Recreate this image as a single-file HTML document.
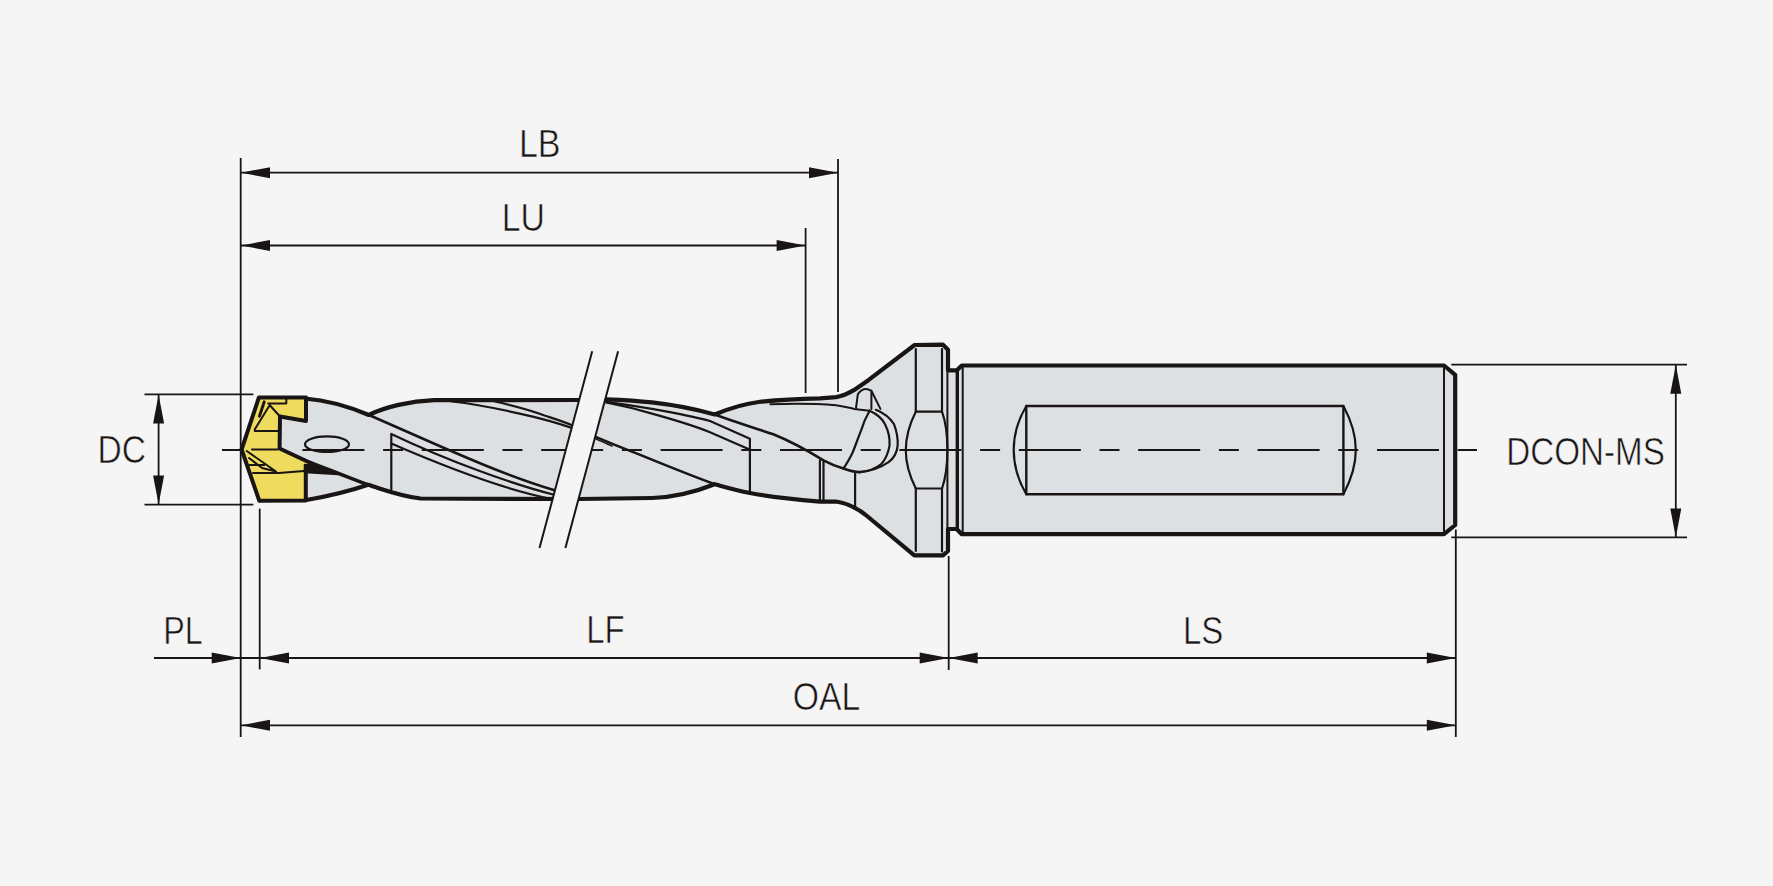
<!DOCTYPE html>
<html><head><meta charset="utf-8">
<style>
html,body{margin:0;padding:0;background:#f5f5f5;}
body{width:1773px;height:886px;overflow:hidden;}
svg{display:block;}
text{font-family:"Liberation Sans",sans-serif;font-size:38.5px;fill:#1a1616;stroke:#f5f5f5;stroke-width:0.6px;}
</style></head>
<body>
<svg width="1773" height="886" viewBox="0 0 1773 886">
<rect x="0" y="0" width="1773" height="886" fill="#f5f5f5"/>

<!-- ===== BODY ===== -->
<g stroke="#1a1515" stroke-linejoin="round" stroke-linecap="round">
<path fill="#dde0e3" stroke-width="4.2" d="M262 398.5 L305 398.5 C330 400.5 350 407 368.8 415 C385 407 410 401 434 400.2 L578 400 L606 399.3 C625 400 640 401 652 402.4 C675 405 695 409 714.7 414.5 C728 409 742 404 758.7 402 C780 399.5 800 398.7 820 398.3 L836.1 397.1 C845 395.5 850 392.5 854.2 389.9 L868.7 379.9 L914.6 345 L943 344.7 L948 349.8 L948 370.4 L956.7 370.4 L961.8 365.5 L1444 365.5 L1455.2 374.8 L1455.2 525 L1444 534.2 L961.8 534.2 L956.7 529 L948 529 L948 551 L943 555.3 L914.3 555.3 L867 516 C858 508.5 849 503.5 836 501.5 L820 501.6 C790 499 765 496 749.9 493 C735 490 725 487 714.7 484.2 C700 490 680 497 652 498 L579 499 L420.6 498.5 C400 496 385 490 368.1 484.8 C350 491 330 496 306.5 500 L262 500 Z"/>
</g>
<!-- body interior lines -->
<g stroke="#1a1515" fill="none" stroke-linejoin="round" stroke-linecap="round">
<!-- coolant hole -->
<ellipse cx="327" cy="444.2" rx="22" ry="7.8" stroke-width="2.2"/>
<!-- thick flute edge from insert -->
<path stroke-width="3.6" d="M300 459 C325 468 345 476 368.1 484.8"/>
<!-- middle lobe main flute diagonal -->
<path stroke-width="2.6" d="M368.8 415 C428.8 440.8 493.8 472 553.8 490 L574 499"/>
<!-- vertical + parallel lines -->
<path stroke-width="2.2" d="M391.3 489.5 L391.3 433.9 C446 460 513 484.5 553.1 494.5 L566 499"/>
<path stroke-width="2.2" d="M391.3 443.5 C441 465 505 490 552 499"/>
<!-- margin lines near top, left part -->
<path stroke-width="2.2" d="M452 401.5 C475 404 495 408 519.6 413.6 C540 418 555 422 575 429"/>
<path stroke-width="2.2" d="M495 401.5 C515 406 530 410 544.5 415.5 C555 419 565 422 575 426.5"/>
<!-- right of break: margin lines -->
<path stroke-width="2.2" d="M606 401.8 C630 405 648 408 664.5 411.1 C685 415 700 418 710 421 L749.9 438.7 L749.9 493"/>
<path stroke-width="2.2" d="M606 402.4 C625 406 640 410 652 413.6 C675 420 695 426 710 432.2 L748.4 449"/>
<!-- right of break: main diagonal -->
<path stroke-width="2.6" d="M595 436.6 C610 443 625 449 639.6 454.6 C665 465 690 475 714.7 484.2"/>
<path stroke-width="1.6" d="M595 438.4 C600 441 605 443 612 446"/>
<!-- right lobe diagonal to ball -->
<path stroke-width="2.6" d="M714.7 414.5 C735 422 755 428 773.3 434.3 C790 441 805 449 823.5 460.4 C832 465 838 467 843.4 468.5 C850 471 855 472 859.6 472.1"/>
<!-- right lobe margin line under top -->
<path stroke-width="2" d="M770.4 404.2 C790 403.5 815 403.5 836.1 405.2 C845 406.5 850 408 854.2 408.9 L869.6 410.7"/>
<!-- verticals in right lobe -->
<path stroke-width="2.2" d="M819.9 460.4 L819.9 499.5 M823.5 461 L823.5 500 M855.1 473.9 L855.1 508"/>
<!-- ball -->
<path stroke-width="2.2" d="M869.6 410.7 C866 417 863 424 861.4 429.6 C858 438 855 447 852.4 453.1 C849 460 846 465 843.4 468.5"/>
<path stroke-width="2.2" d="M869.6 410.7 C877 414 882 418 885 424.2 C889 432 890 440 889.5 445.9 C888 454 885 460 881.3 464 C875 469 867 471.5 859.6 472.1"/>
<path stroke-width="2.2" d="M875.9 409.8 C884 413 890 418 894 424.2 C897 432 898 440 897.6 445.9 C897 453 894 458 888.6 462.2 C880 468 870 471.5 859.6 472.1"/>
<path stroke-width="2" d="M856 408 L857.8 394.4 C860 391 863 389 866 389 C868 389 870 390 871.4 390.8 L880.4 408.9 M871.4 390.8 L871.4 408.9"/>
<!-- flange -->
<path stroke-width="2.2" d="M915.8 349 L915.8 411.7 L942 411.7 M915.8 551 L915.8 488.5 L942 488.5"/>
<path stroke-width="2.2" d="M915.8 411.7 C909 425 905.8 440 905.8 450.3 C905.8 461 909 475 915.8 488.5"/>
<path stroke-width="2.2" d="M942 349 L942 411.7 C945 420 947.4 430 947.4 450 C947.4 470 945 480 942 488.5 L942 551.5"/>
<!-- neck -->
<path stroke-width="2" d="M947.4 372 L947.4 528"/>
<path stroke-width="3.4" d="M957.3 371 L957.3 529"/>
<path stroke-width="2" d="M962.7 367 L962.7 532"/>
<!-- shank right -->
<path stroke-width="2" d="M1444 367 L1444 532"/>
<!-- flat -->
<path stroke-width="2.4" d="M1026.3 406 L1343.4 406 M1026.3 494.3 L1343.4 494.3 M1026.3 406 L1026.3 494.3 M1343.4 406 L1343.4 494.3"/>
<path stroke-width="2.2" d="M1026.3 406 C1018 420 1013.7 437 1013.7 450 C1013.7 463 1018 480 1026.3 494.3"/>
<path stroke-width="2.2" d="M1343.4 406 C1351 420 1355.8 437 1355.8 450 C1355.8 463 1351 480 1343.4 494.3"/>
</g>

<!-- ===== CENTER LINE ===== -->
<line x1="222" y1="450" x2="1477" y2="450" stroke="#1a1515" stroke-width="2" stroke-dasharray="62 18.7 20 18.7" stroke-dashoffset="39"/>

<!-- ===== INSERT ===== -->
<g stroke="#1a1515" stroke-linejoin="round" stroke-linecap="round">
<path fill="#efdb5e" stroke-width="4" d="M258.9 397.5 L306 397.5 L306 421 L280 416.5 L279.6 448.5 L316 465.5 L305.8 469 L305.8 500.5 L259.3 500.8 L241.6 449.5 Z"/>
<path fill="#1a1515" stroke-width="1.5" d="M304.5 464.5 L318 465.8 L338 474.5 L304.5 472.5 Z"/>
<g fill="none" stroke-width="2">
<path stroke-width="3" d="M264.2 401.9 L259.5 416.1"/>
<path d="M269.8 405 L254.7 429.5 M268.2 403.4 L286.3 403.4 L286.3 398.5 M270.5 406 L280 416.5"/>
<path d="M254.7 431.1 L279.6 431.1"/>
<path d="M252 449.5 L277.5 449.5"/>
<path d="M246.7 451 L276 471.5 L262 468 L249 458"/>
<path d="M249.7 465 L264.3 465"/>
<path d="M253 473 L279 473 L304 471"/>
</g>
</g>

<!-- ===== BREAK ===== -->
<polygon points="592.2,351.3 618.1,351.3 565.4,548 539.5,548" fill="#f5f5f5"/>
<g stroke="#1a1515" stroke-width="2">
<line x1="592.2" y1="351.3" x2="539.5" y2="548"/>
<line x1="618.1" y1="351.3" x2="565.4" y2="548"/>
</g>

<!-- ===== DIMENSIONS ===== -->
<g stroke="#1a1515" stroke-width="1.8" fill="none">
<line x1="240.7" y1="158" x2="240.7" y2="737"/>
<line x1="241" y1="172.7" x2="838" y2="172.7"/>
<line x1="838" y1="159" x2="838" y2="392"/>
<line x1="241" y1="245.5" x2="805.6" y2="245.5"/>
<line x1="805.6" y1="228" x2="805.6" y2="393"/>
<line x1="144.5" y1="394.4" x2="253.4" y2="394.4"/>
<line x1="144.5" y1="504.6" x2="253.4" y2="504.6"/>
<line x1="158.6" y1="394.4" x2="158.6" y2="504.6"/>
<line x1="259.7" y1="508.6" x2="259.7" y2="669.4"/>
<line x1="154" y1="658" x2="1455.8" y2="658"/>
<line x1="948.7" y1="556" x2="948.7" y2="670"/>
<line x1="1455.8" y1="529.5" x2="1455.8" y2="737"/>
<line x1="241" y1="725.3" x2="1455.8" y2="725.3"/>
<line x1="1451.3" y1="364.7" x2="1687" y2="364.7"/>
<line x1="1451.3" y1="537.4" x2="1687" y2="537.4"/>
<line x1="1675.8" y1="364.7" x2="1675.8" y2="537.4"/>
</g>
<g fill="#1a1515">
<!-- LB -->
<polygon points="241,172.7 270,167.2 270,178.2"/>
<polygon points="838,172.7 809,167.2 809,178.2"/>
<!-- LU -->
<polygon points="241,245.5 270,240 270,251"/>
<polygon points="805.6,245.5 776.6,240 776.6,251"/>
<!-- DC -->
<polygon points="158.6,394.4 153.1,423.4 164.1,423.4"/>
<polygon points="158.6,504.6 153.1,475.6 164.1,475.6"/>
<!-- PL -->
<polygon points="240.7,658 211.7,652.5 211.7,663.5"/>
<!-- LF -->
<polygon points="260,658 289,652.5 289,663.5"/>
<polygon points="948.7,658 919.7,652.5 919.7,663.5"/>
<!-- LS -->
<polygon points="948.7,658 977.7,652.5 977.7,663.5"/>
<polygon points="1455.8,658 1426.8,652.5 1426.8,663.5"/>
<!-- OAL -->
<polygon points="241,725.3 270,719.8 270,730.8"/>
<polygon points="1455.8,725.3 1426.8,719.8 1426.8,730.8"/>
<!-- DCON -->
<polygon points="1675.8,364.7 1670.3,393.7 1681.3,393.7"/>
<polygon points="1675.8,537.4 1670.3,508.4 1681.3,508.4"/>
</g>

<!-- ===== LABELS ===== -->
<text transform="translate(518.90,157.00) scale(0.8846,1)">LB</text>
<text transform="translate(501.70,231.00) scale(0.8800,1)">LU</text>
<text transform="translate(97.56,463.00) scale(0.8721,1)">DC</text>
<text transform="translate(1506.19,465.00) scale(0.8628,1)">DCON-MS</text>
<text transform="translate(163.28,643.80) scale(0.8388,1)">PL</text>
<text transform="translate(586.20,643.40) scale(0.8577,1)">LF</text>
<text transform="translate(1183.01,644.00) scale(0.8578,1)">LS</text>
<text transform="translate(792.76,710.40) scale(0.8765,1)">OAL</text>
</svg>
</body></html>
